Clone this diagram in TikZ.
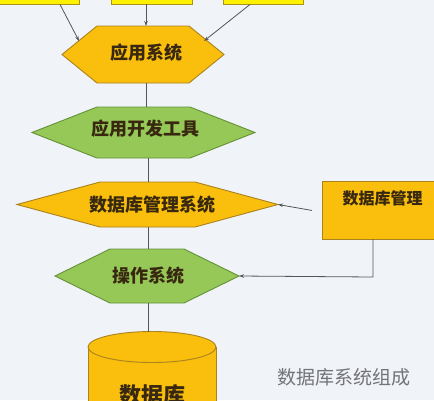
\documentclass[tikz,border=0pt]{standalone}
\usepackage{fontspec}
\newfontfamily\cjk{Noto Sans CJK SC}
\usetikzlibrary{arrows.meta}
\definecolor{bg}{RGB}{240,243,247}
\definecolor{ofill}{RGB}{250,190,12}
\definecolor{odraw}{RGB}{170,130,30}
\definecolor{gfill}{RGB}{150,200,88}
\definecolor{gdraw}{RGB}{100,145,55}
\definecolor{yfill}{RGB}{255,240,0}
\definecolor{ydraw}{RGB}{170,150,20}
\definecolor{lnc}{RGB}{85,85,90}
\definecolor{txc}{RGB}{55,40,15}
\definecolor{capc}{RGB}{115,115,120}
\newcommand\myhex[7]{% name, cx, cy, hw, hh, inset, style
  \draw[#7] ({#2-#4},#3) -- ({#2-#4+#6},{#3-#5}) -- ({#2+#4-#6},{#3-#5})
    -- ({#2+#4},#3) -- ({#2+#4-#6},{#3+#5}) -- ({#2-#4+#6},{#3+#5}) -- cycle;
  \coordinate (#1w) at ({#2-#4},#3);
  \coordinate (#1e) at ({#2+#4},#3);
}
\tikzset{
  ohex/.style={fill=ofill,draw=odraw,line width=0.9pt},
  ghex/.style={fill=gfill,draw=gdraw,line width=0.9pt},
  ybox/.style={fill=yfill,draw=ydraw,line width=0.9pt,inner sep=0pt},
  obox/.style={fill=ofill,draw=odraw,line width=0.9pt,inner sep=0pt},
  conn/.style={draw=lnc,line width=0.8pt},
  arr/.style={conn,-{Stealth[length=5pt,width=3.5pt]}},
  lbl/.style={font=\cjk\bfseries\fontsize{18}{18}\selectfont,text=txc,inner sep=0pt},
}
\begin{document}
\begin{tikzpicture}[x=1pt,y=-1pt]
\useasboundingbox (0,0) rectangle (434,400);
\clip (0,0) rectangle (434,400);
\fill[bg] (0,0) rectangle (434,400);

% top boxes
\node[ybox,minimum width=81pt,minimum height=24pt] (t1) at (39,-8) {};
\node[ybox,minimum width=81pt,minimum height=24pt] (t2) at (151.5,-8) {};
\node[ybox,minimum width=80pt,minimum height=24pt] (t3) at (263,-8) {};

% hexagons
\myhex{h1}{143}{54.5}{81}{28.5}{35}{ohex}
\node[lbl] (l1) at (146,53) {应用系统};
\myhex{h2}{143.5}{132.5}{111.5}{25.5}{65}{ghex}
\node[lbl] (l2) at (145,129) {应用开发工具};
\myhex{h3}{147.5}{204.5}{130.5}{22.5}{83}{ohex}
\node[lbl] (l3) at (152,205) {数据库管理系统};
\myhex{h4}{147}{276}{92}{27}{55}{ghex}
\node[lbl] (l4) at (148,276) {操作系统};

\coordinate (h1ul) at (79,41);
\coordinate (h1t) at (146,26);
\coordinate (h1ur) at (204,41);
\coordinate (h1b) at (146,83);
\coordinate (h2t) at (146,107);
\coordinate (h2b) at (148,158);
\coordinate (h3t) at (148,182);
\coordinate (h3b) at (148,227);
\coordinate (h4t) at (148,249);
\coordinate (h4b) at (148,303);

% right box
\node[obox,minimum width=140pt,minimum height=58pt,anchor=north west] (dba) at (322,181) {};
\node[lbl,font=\cjk\bfseries\fontsize{16}{16}\selectfont] (dbat) at (382.5,198) {数据库管理};
\coordinate (dbas) at (373,239);
\coordinate (bend) at (373,277);

% cylinder
\fill[ofill] (88,347) rectangle (216,420);
\draw[odraw,line width=0.9pt] (88,347) -- (88,420) (216,347) -- (216,420);
\draw[ohex] (152,347) ellipse [x radius=64, y radius=15.5];
\coordinate (dbtop) at (148,332);
\node[lbl,font=\cjk\bfseries\fontsize{22}{22}\selectfont] (dbl) at (152,395) {数据库};

% caption
\node[font=\cjk\fontsize{19}{19}\selectfont,text=capc,inner sep=0pt] (cap) at (344,377) {数据库系统组成};

% connectors
\draw[arr] ([xshift=21pt]t1.south) -- (h1ul);
\draw[arr] ([xshift=-5.5pt]t2.south) -- (h1t);
\draw[arr] ([xshift=-13pt]t3.south) -- (h1ur);
\draw[conn] (h1b) -- (h2t);
\draw[conn] (h2b) -- (h3t);
\draw[conn] (h3b) -- (h4t);
\draw[conn] (h4b) -- (dbtop);
\draw[arr] ([xshift=-10pt]dba.west) -- (h3e);
\draw[arr] (dbas) -- (bend) -- (h4e);
\end{tikzpicture}
\end{document}
